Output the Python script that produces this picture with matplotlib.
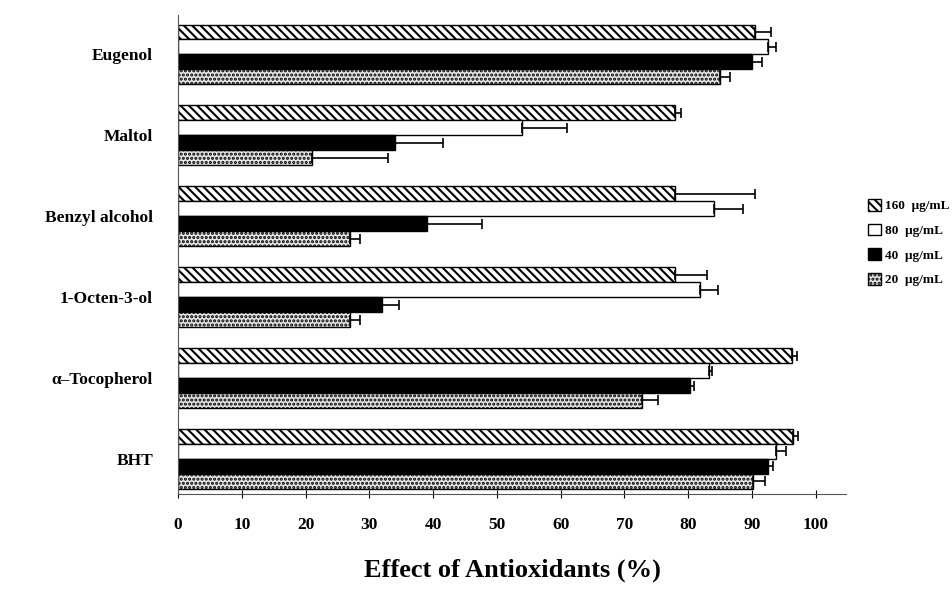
import numpy as np
import matplotlib
matplotlib.use("Agg")
import matplotlib.pyplot as plt

plt.rcParams['font.family'] = ['Liberation Serif', 'DejaVu Serif']
plt.rcParams['hatch.linewidth'] = 1.5

# dane (od gory do dolu)
kategorie = ["Eugenol", "Maltol", "Benzyl alcohol", "1-Octen-3-ol", "\u03b1\u2013Tocopherol", "BHT"]
stezenia = ["160", "80", "40", "20"]

v160 = [90.5, 78.0, 78.0, 78.0, 96.3, 96.5]
e160 = [2.5, 0.8, 12.5, 5.0, 0.8, 0.7]
v80 = [92.5, 54.0, 84.0, 81.8, 83.2, 93.8]
e80 = [1.3, 7.0, 4.6, 2.8, 0.5, 1.6]
v40 = [90.0, 34.0, 39.0, 32.0, 80.3, 92.5]
e40 = [1.6, 7.6, 8.6, 2.6, 0.6, 0.8]
v20 = [85.0, 21.0, 27.0, 27.0, 72.8, 90.2]
e20 = [1.5, 12.0, 1.5, 1.6, 2.4, 1.8]

wartosci = [v160, v80, v40, v20]
bledy = [e160, e80, e40, e20]
style = [
    dict(facecolor="white", hatch="\\\\\\\\"),
    dict(facecolor="white", hatch=None),
    dict(facecolor="black", hatch=None),
    dict(facecolor="#e6e6e6", hatch="...."),
]
przesuniecia = [1.5, 0.5, -0.5, -1.5]
h = 0.185

fig = plt.figure(figsize=(9.52, 5.92), dpi=100)
ax = fig.add_axes([0.187, 0.166, 0.702, 0.809])

y = np.arange(len(kategorie))[::-1]
for vals, errs, st, off, lab in zip(wartosci, bledy, style, przesuniecia, stezenia):
    xerr = [np.zeros(len(errs)), errs]
    ax.barh(y + off * h, vals, height=h, xerr=xerr, edgecolor="black", linewidth=1.0,
            error_kw=dict(ecolor="black", elinewidth=1.2, capsize=3.5, capthick=1.2),
            label=lab + "  \u03bcg/mL", **st)

ax.set_xlim(0, 104.8)
ax.set_ylim(-0.43, 5.49)
ax.set_xticks(range(0, 101, 10))
ax.set_yticks(y)
ax.set_yticklabels(kategorie, fontsize=12.5, fontweight="bold")
ax.tick_params(axis="y", length=0, pad=18)
ax.tick_params(axis="x", direction="inout", length=6, pad=14, labelsize=12.5)
for t in ax.get_xticklabels():
    t.set_fontweight("bold")
ax.spines["top"].set_visible(False)
ax.spines["right"].set_visible(False)
ax.spines["left"].set_color("#555555")
ax.spines["bottom"].set_color("#555555")
ax.set_xlabel("Effect of Antioxidants (%)", fontsize=19, fontweight="bold", labelpad=18)

ax.legend(loc="center left", bbox_to_anchor=(0.903, 0.59), bbox_transform=fig.transFigure,
          frameon=False, handlelength=1.0, handleheight=1.0, handletextpad=0.3,
          borderpad=0.1, labelspacing=0.85, prop=dict(size=9.5, weight="bold"))

fig.savefig("out.png", dpi=100)
